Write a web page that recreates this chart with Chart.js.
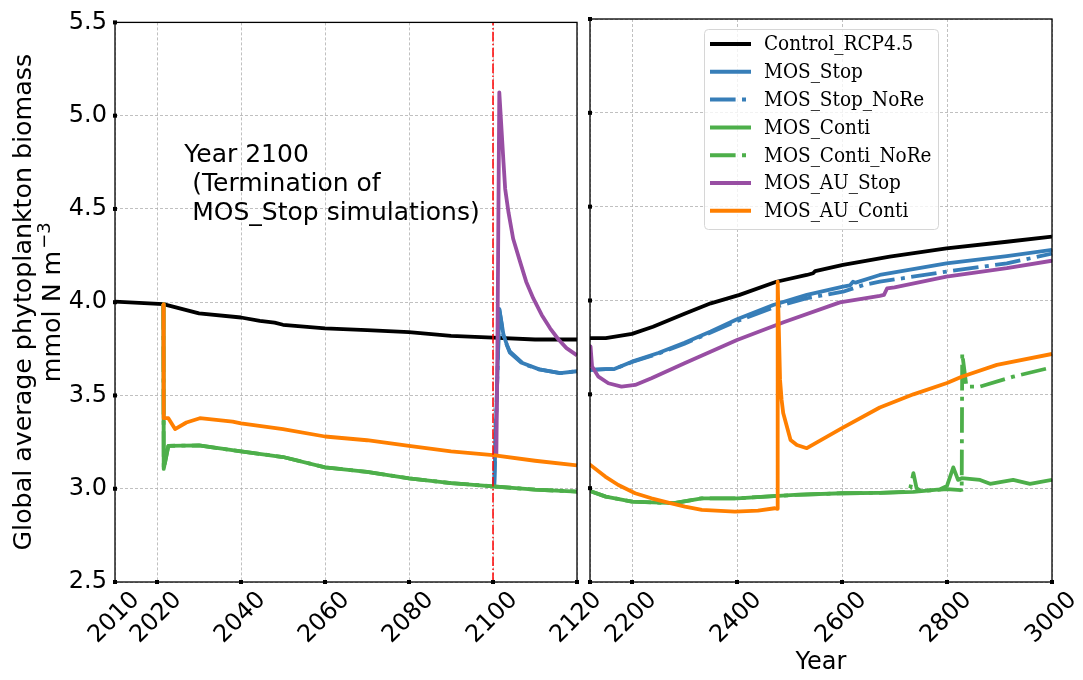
<!DOCTYPE html>
<html>
<head>
<meta charset="utf-8">
<script src="https://cdn.jsdelivr.net/npm/chart.js@4.4.1/dist/chart.umd.min.js"></script>
<style>
  html, body { margin: 0; padding: 0; background: #fff; }
  #wrap { position: relative; width: 1083px; height: 680px; overflow: hidden; }
  canvas { position: absolute; top: 0; }
  #left { left: 0; }
  #right { left: 540px; }
</style>
</head>
<body>
<div id="wrap">
  <canvas id="left" width="640" height="680"></canvas>
  <canvas id="right" width="543" height="680"></canvas>
</div>
<script>
// Data (years, biomass in mmol N m-3)
const controlYears = [2010, 2021.5, 2030, 2040, 2044.5, 2048, 2050, 2060, 2070, 2080, 2090, 2100, 2110, 2120, 2150, 2200, 2240, 2300, 2350, 2405, 2475, 2533, 2545, 2549, 2602, 2691, 2799, 2914, 3000];
const controlVals = [4.003, 3.99, 3.94, 3.918, 3.90, 3.89, 3.879, 3.86, 3.85, 3.84, 3.82, 3.81, 3.80, 3.80, 3.80, 3.822, 3.86, 3.93, 3.985, 4.03, 4.10, 4.136, 4.145, 4.157, 4.19, 4.234, 4.278, 4.313, 4.34];

const stopYears = [2100, 2100.3, 2101.5, 2102.5, 2103.3, 2104, 2107, 2111, 2116, 2120, 2150, 2165, 2200, 2250, 2300, 2350, 2400, 2469, 2533, 2602, 2615, 2621, 2626, 2672, 2799, 2914, 3000];
const stopVals = [3.013, 3.02, 3.964, 3.825, 3.772, 3.736, 3.674, 3.64, 3.62, 3.63, 3.634, 3.634, 3.674, 3.72, 3.775, 3.835, 3.9, 3.976, 4.03, 4.074, 4.08, 4.10, 4.095, 4.136, 4.198, 4.237, 4.27];

const stopNoReYears = [2100, 2100.3, 2101.5, 2102.5, 2103.3, 2104, 2107, 2111, 2116, 2120, 2150, 2165, 2200, 2250, 2300, 2350, 2400, 2469, 2533, 2602, 2641, 2672, 2799, 2914, 3000];
const stopNoReVals = [3.013, 3.02, 3.96, 3.82, 3.77, 3.73, 3.67, 3.64, 3.62, 3.63, 3.634, 3.634, 3.672, 3.716, 3.77, 3.83, 3.89, 3.962, 4.012, 4.047, 4.083, 4.10, 4.154, 4.198, 4.25];

const contiYears = [2021.5, 2021.6, 2022.7, 2030, 2040, 2050, 2060, 2070, 2080, 2090, 2100, 2110, 2120, 2150, 2200, 2280, 2333, 2400, 2510, 2600, 2672, 2736, 2787, 2800, 2812, 2821, 2828, 2863, 2882, 2926, 2958, 3000];
const contiVals = [3.99, 3.106, 3.23, 3.232, 3.20, 3.17, 3.115, 3.09, 3.056, 3.03, 3.013, 2.995, 2.985, 2.955, 2.928, 2.92, 2.946, 2.946, 2.964, 2.973, 2.975, 2.98, 2.994, 3.012, 3.111, 3.044, 3.053, 3.044, 3.023, 3.044, 3.023, 3.044];

const contiNoReYears = [2021.5, 2021.6, 2022.7, 2030, 2040, 2050, 2060, 2070, 2080, 2090, 2100, 2110, 2120, 2150, 2200, 2280, 2333, 2400, 2510, 2600, 2672, 2720, 2730, 2736, 2742, 2750, 2800, 2827, 2828, 2829, 2837, 2863, 2926, 3000];
const contiNoReVals = [3.99, 3.106, 3.23, 3.232, 3.20, 3.17, 3.115, 3.09, 3.056, 3.03, 3.013, 2.995, 2.985, 2.955, 2.928, 2.92, 2.946, 2.946, 2.964, 2.973, 2.975, 2.98, 3.0, 3.08, 3.0, 2.985, 2.995, 2.99, 2.98, 3.719, 3.541, 3.541, 3.594, 3.644];

const auStopYears = [2100.8, 2101.0, 2101.5, 2102.5, 2102.9, 2103.7, 2104.8, 2106.4, 2107.9, 2109.6, 2111.6, 2113.6, 2115.6, 2117.5, 2120, 2121, 2124, 2136, 2155, 2180, 2206, 2237, 2300, 2400, 2490, 2596, 2672, 2680, 2686, 2700, 2799, 2914, 3000];
const auStopVals = [3.18, 3.6, 5.125, 4.75, 4.607, 4.48, 4.34, 4.22, 4.11, 4.02, 3.932, 3.86, 3.80, 3.754, 3.715, 3.755, 3.648, 3.594, 3.559, 3.541, 3.55, 3.586, 3.666, 3.79, 3.885, 3.99, 4.025, 4.03, 4.065, 4.07, 4.127, 4.172, 4.212];

const auContiYears = [2021.5, 2021.6, 2022.7, 2024.3, 2027, 2030.2, 2038, 2040, 2050, 2060, 2070, 2080, 2090, 2100, 2110, 2120, 2149, 2174, 2206, 2237, 2269, 2301, 2333, 2396, 2440, 2472, 2476.8, 2477.5, 2482, 2485, 2488, 2502, 2514, 2533, 2600, 2672, 2736, 2800, 2828, 2895, 3000];
const auContiVals = [3.99, 3.378, 3.378, 3.32, 3.355, 3.378, 3.36, 3.35, 3.32, 3.28, 3.26, 3.23, 3.20, 3.18, 3.15, 3.125, 3.062, 3.017, 2.973, 2.946, 2.923, 2.902, 2.884, 2.875, 2.88, 2.893, 2.89, 4.10, 3.577, 3.47, 3.40, 3.257, 3.23, 3.213, 3.32, 3.43, 3.50, 3.56, 3.594, 3.657, 3.715];

const termYears = [2100, 2100];
const termVals = [2.5, 5.5];

const leftTicks = [2010, 2020, 2040, 2060, 2080, 2100, 2120];
const rightTicks = [2120, 2200, 2400, 2600, 2800, 3000];

const yTitle = "Global average phytoplankton biomass";
const yUnit = "mmol N m";
const yUnitExp = "\u22123";
const noteLines = ["Year 2100", " (Termination of", " MOS_Stop simulations)"];
const noteAt = [2026.5, 4.749];

Chart.defaults.font.family = "'DejaVu Sans', sans-serif";
Chart.defaults.font.size = 24;
Chart.defaults.color = "#000";

const dashDot = [25.6, 6.4, 4, 6.4];

const seriesDefs = [
  { label: "Control_RCP4.5", years: controlYears, vals: controlVals, color: "#000000", dash: [] },
  { label: "MOS_Stop", years: stopYears, vals: stopVals, color: "#377eb8", dash: [] },
  { label: "MOS_Stop_NoRe", years: stopNoReYears, vals: stopNoReVals, color: "#377eb8", dash: dashDot },
  { label: "MOS_Conti", years: contiYears, vals: contiVals, color: "#4daf4a", dash: [] },
  { label: "MOS_Conti_NoRe", years: contiNoReYears, vals: contiNoReVals, color: "#4daf4a", dash: dashDot },
  { label: "MOS_AU_Stop", years: auStopYears, vals: auStopVals, color: "#984ea3", dash: [] },
  { label: "MOS_AU_Conti", years: auContiYears, vals: auContiVals, color: "#ff7f00", dash: [] },
];

function zip(xs, ys) {
  return xs.map((x, i) => ({ x: x, y: ys[i] }));
}

// later series drawn on top, like matplotlib
function makeDatasets() {
  return seriesDefs.map((s, i) => ({
    label: s.label,
    data: zip(s.years, s.vals),
    borderColor: s.color,
    backgroundColor: s.color,
    borderWidth: 3.8,
    borderDash: s.dash,
    borderJoinStyle: "round",
    pointRadius: 0,
    tension: 0,
    fill: false,
    clip: 0,
    order: 20 - i,
  }));
}

// box, tick marks
const framePlugin = {
  id: "frame",
  afterDatasetsDraw(chart) {
    const { ctx, chartArea: a } = chart;
    const x = chart.scales.x, y = chart.scales.y;
    ctx.save();
    ctx.strokeStyle = "#000";
    ctx.lineWidth = 1.3;
    ctx.strokeRect(a.left, a.top, a.right - a.left, a.bottom - a.top);
    ctx.fillStyle = "#000";
    x.ticks.forEach((t) => {
      const px = x.getPixelForValue(t.value);
      ctx.fillRect(px - 2, a.bottom - 2, 4, 4);
    });
    y.ticks.forEach((t) => {
      const py = y.getPixelForValue(t.value);
      ctx.fillRect(a.left - 2, py - 2, 4, 4);
    });
    ctx.restore();
  },
};

// annotation text and the two-line y title with a superscript
const textPlugin = {
  id: "texts",
  afterDraw(chart) {
    const { ctx, chartArea: a } = chart;
    const px = chart.scales.x.getPixelForValue(noteAt[0]);
    const py = chart.scales.y.getPixelForValue(noteAt[1]);
    ctx.save();
    ctx.fillStyle = "#000";
    ctx.font = "25px 'DejaVu Sans'";
    ctx.textAlign = "left";
    ctx.textBaseline = "alphabetic";
    noteLines.forEach((line, i) => ctx.fillText(line, px, py + i * 28.6));

    ctx.translate(31, (a.top + a.bottom) / 2);
    ctx.rotate(-Math.PI / 2);
    ctx.font = "25.3px 'DejaVu Sans'";
    ctx.textAlign = "center";
    ctx.fillText(yTitle, 0, 0);
    const w1 = ctx.measureText(yUnit).width;
    ctx.font = "18px 'DejaVu Sans'";
    const w2 = ctx.measureText(yUnitExp).width;
    const start = -(w1 + w2 + 2) / 2;
    ctx.textAlign = "left";
    ctx.font = "25.3px 'DejaVu Sans'";
    ctx.fillText(yUnit, start, 29);
    ctx.font = "18px 'DejaVu Sans'";
    ctx.fillText(yUnitExp, start + w1 + 2, 19);
    ctx.restore();
  },
};

const legendPlugin = {
  id: "boxLegend",
  afterDraw(chart) {
    const { ctx } = chart;
    const items = chart.data.datasets.filter((d) => d.label);
    const bx = 164, by = 29, bw = 234, bh = 200;
    ctx.save();
    ctx.beginPath();
    ctx.roundRect(bx + 0.5, by + 0.5, bw, bh, 4);
    ctx.fillStyle = "rgba(255,255,255,0.8)";
    ctx.fill();
    ctx.strokeStyle = "#d6d6d6";
    ctx.lineWidth = 1;
    ctx.stroke();
    ctx.font = "20.5px 'DejaVu Serif Condensed', 'DejaVu Serif', serif";
    ctx.textBaseline = "middle";
    ctx.textAlign = "left";
    items.forEach((d, i) => {
      const cy = by + 15 + i * 27.8;
      ctx.beginPath();
      ctx.setLineDash(d.borderDash || []);
      ctx.strokeStyle = d.borderColor;
      ctx.lineWidth = 4;
      ctx.moveTo(bx + 6, cy);
      ctx.lineTo(bx + 47, cy);
      ctx.stroke();
      ctx.setLineDash([]);
      ctx.fillStyle = "#000";
      ctx.fillText(d.label, bx + 60, cy + 1);
    });
    ctx.restore();
  },
};

function gridOpts() {
  return { color: "#b0b0b0", lineWidth: 0.8, drawTicks: false };
}

// left panel: 2010-2120
const leftData = makeDatasets();
leftData.push({
  label: "",
  data: zip(termYears, termVals),
  borderColor: "#ff0000",
  borderWidth: 1.5,
  borderDash: [9.6, 2.4, 1.5, 2.4],
  pointRadius: 0,
  fill: false,
  clip: 0,
  order: 0,
});

new Chart(document.getElementById("left").getContext("2d"), {
  type: "line",
  data: { datasets: leftData },
  options: {
    responsive: false,
    animation: false,
    layout: { padding: { left: 0, top: 19, right: 63, bottom: 0 } },
    plugins: { legend: { display: false }, tooltip: { enabled: false } },
    scales: {
      x: {
        type: "linear",
        min: 2010,
        max: 2120,
        afterBuildTicks: (scale) => {
          scale.ticks = leftTicks.map((v) => ({ value: v }));
        },
        afterFit: (scale) => { scale.height = 98; },
        grid: gridOpts(),
        border: { display: false, dash: [3, 2] },
        ticks: {
          autoSkip: false,
          minRotation: 45,
          maxRotation: 45,
          padding: 4,
          labelOffset: 21,
          callback: (v) => String(v),
        },
      },
      y: {
        type: "linear",
        min: 2.5,
        max: 5.5,
        afterFit: (scale) => { scale.width = 115; },
        grid: gridOpts(),
        border: { display: false, dash: [3, 2] },
        ticks: { stepSize: 0.5, padding: 8, callback: (v) => v.toFixed(1) },
      },
    },
  },
  plugins: [framePlugin, textPlugin],
});

// right panel: 2120-3000
new Chart(document.getElementById("right").getContext("2d"), {
  type: "line",
  data: { datasets: makeDatasets() },
  options: {
    responsive: false,
    animation: false,
    layout: { padding: { left: 0, top: 19, right: 31, bottom: 0 } },
    plugins: { legend: { display: false }, tooltip: { enabled: false } },
    scales: {
      x: {
        type: "linear",
        min: 2120,
        max: 3000,
        afterBuildTicks: (scale) => {
          scale.ticks = rightTicks.map((v) => ({ value: v }));
        },
        afterFit: (scale) => { scale.height = 98; },
        grid: gridOpts(),
        border: { display: false, dash: [3, 2] },
        ticks: {
          autoSkip: false,
          minRotation: 45,
          maxRotation: 45,
          padding: 4,
          labelOffset: 21,
          callback: (v) => (v === 2120 ? "" : String(v)),
        },
        title: { display: true, text: "Year", padding: { top: 0, bottom: 3 } },
      },
      y: {
        type: "linear",
        min: 2.5,
        max: 5.5,
        afterFit: (scale) => { scale.width = 50; },
        grid: gridOpts(),
        border: { display: false, dash: [3, 2] },
        ticks: { stepSize: 0.5, display: false },
      },
    },
  },
  plugins: [framePlugin, legendPlugin],
});
</script>
</body>
</html>
